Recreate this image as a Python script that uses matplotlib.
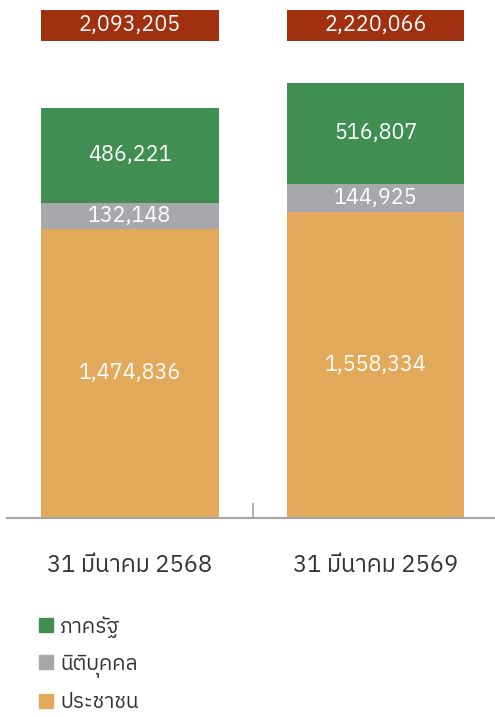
import matplotlib
matplotlib.use("Agg")
import matplotlib.pyplot as plt
from matplotlib import font_manager
from matplotlib.ft2font import FT2Font
from matplotlib.patches import Patch

categories = ["31 มีนาคม 2568", "31 มีนาคม 2569"]
series_names = ["ประชาชน", "นิติบุคคล", "ภาครัฐ"]
people = [1474836, 1558334]
corporate = [132148, 144925]
government = [486221, 516807]
totals = [2093205, 2220066]

colors = {"ประชาชน": "#E2A95A", "นิติบุคคล": "#A7A8AB", "ภาครัฐ": "#408E52"}

# find a font with Thai glyphs
thai_family = None
for fe in font_manager.fontManager.ttflist:
    try:
        f = FT2Font(fe.fname)
        cm = f.get_charmap()
        if ord("ม") in cm and ord("1") in cm:
            thai_family = fe.name
            if "Sans" in fe.name:
                break
    except Exception:
        pass
fams = ([thai_family] if thai_family else []) + ["DejaVu Sans"]
plt.rcParams["font.family"] = fams

W, H = 495, 717
fig = plt.figure(figsize=(W / 100, H / 100), dpi=100)
ax = fig.add_axes([7 / W, (H - 518) / H, 487 / W, 518 / H])
ymax = 518 * 5100
ax.set_ylim(0, ymax)
ax.set_xlim(-0.5, 1.48)

x = [0, 1]
bw = 0.72
data = [people, corporate, government]
bottom = [0, 0]
for name, vals in zip(series_names, data):
    ax.bar(x, vals, bw, bottom=bottom, color=colors[name], label=name)
    for xi, v, b in zip(x, vals, bottom):
        ax.text(xi, b + v / 2, f"{v:,}", ha="center", va="center",
                color="white", fontsize=15.5)
    bottom = [b + v for b, v in zip(bottom, vals)]

# total boxes
box_bottom = ymax * (1 - 41 / 518)
box_h = ymax * 31 / 518
ax.bar(x, [box_h] * 2, bw, bottom=box_bottom, color="#A0300F")
for xi, t in zip(x, totals):
    ax.text(xi, box_bottom + box_h / 2, f"{t:,}", ha="center", va="center",
            color="white", fontsize=15.5)

for s in ["top", "right", "left"]:
    ax.spines[s].set_visible(False)
ax.spines["bottom"].set_color("#A6A6A6")
ax.spines["bottom"].set_linewidth(1.5)
ax.set_yticks([])
ax.set_xticks([0.5])
ax.set_xticklabels([""])
ax.tick_params(axis="x", length=11, color="#A6A6A6", width=1.2, direction="in")
for xi, c in zip(x, categories):
    ax.text(xi, -ymax * 48 / 518, c, ha="center", va="center",
            fontsize=17, color="#333333")

handles = [Patch(color=colors[n]) for n in ["ภาครัฐ", "นิติบุคคล", "ประชาชน"]]
fig.legend(handles, ["ภาครัฐ", "นิติบุคคล", "ประชาชน"], loc="upper left",
           bbox_to_anchor=(39 / W, 1 - 616 / H), frameon=False, fontsize=15,
           handlelength=0.67, handleheight=0.67, handletextpad=0.35,
           labelspacing=0.78, labelcolor="#333333",
           borderpad=0, borderaxespad=0)

fig.savefig("out.png", dpi=100)
